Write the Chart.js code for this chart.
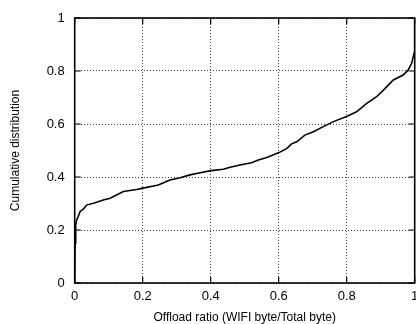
<!DOCTYPE html>
<html>
<head>
<meta charset="utf-8">
<script src="https://cdn.jsdelivr.net/npm/chart.js@4/dist/chart.umd.min.js"></script>
<style>
html,body{margin:0;padding:0;background:#fff;}
canvas{display:block;}
</style>
</head>
<body>
<canvas id="c" width="416" height="324"></canvas>
<script>
// Offload ratio (x) and cumulative distribution (y)
const offloadRatio = [0, 0.001, 0.003, 0.006, 0.01, 0.016, 0.026, 0.035, 0.06, 0.084, 0.104, 0.143, 0.182, 0.197, 0.246, 0.28, 0.31, 0.339, 0.369, 0.401, 0.437, 0.457, 0.486, 0.52, 0.54, 0.565, 0.601, 0.624, 0.638, 0.653, 0.677, 0.702, 0.731, 0.761, 0.803, 0.829, 0.859, 0.888, 0.908, 0.937, 0.966, 0.981, 0.991, 0.998, 1.0, 1.0];
const cumulative = [0, 0.15, 0.22, 0.238, 0.25, 0.27, 0.28, 0.294, 0.303, 0.313, 0.32, 0.345, 0.353, 0.357, 0.37, 0.389, 0.397, 0.408, 0.416, 0.424, 0.429, 0.437, 0.445, 0.454, 0.464, 0.474, 0.492, 0.508, 0.525, 0.533, 0.558, 0.571, 0.59, 0.609, 0.63, 0.646, 0.678, 0.703, 0.728, 0.766, 0.785, 0.804, 0.829, 0.867, 0.905, 1.0];
const xTickValues = [0, 0.2, 0.4, 0.6, 0.8, 1];
const yTickValues = [0, 0.2, 0.4, 0.6, 0.8, 1];
const xTitle = 'Offload ratio (WIFI byte/Total byte)';
const yTitle = 'Cumulative distribution';

const points = offloadRatio.map((x, i) => ({x: x, y: cumulative[i]}));

const frame = {
  id: 'frame',
  afterDatasetsDraw(chart) {
    const ctx = chart.ctx, a = chart.chartArea;
    const sx = chart.scales.x, sy = chart.scales.y;
    ctx.save();
    ctx.strokeStyle = '#000';
    ctx.lineWidth = 1.2;
    ctx.beginPath();
    xTickValues.forEach(v => {
      const p = sx.getPixelForValue(v);
      ctx.moveTo(p, a.bottom); ctx.lineTo(p, a.bottom - 6);
      ctx.moveTo(p, a.top); ctx.lineTo(p, a.top + 6);
    });
    yTickValues.forEach(v => {
      const p = sy.getPixelForValue(v);
      ctx.moveTo(a.left, p); ctx.lineTo(a.left + 6, p);
      ctx.moveTo(a.right, p); ctx.lineTo(a.right - 6, p);
    });
    ctx.stroke();
    ctx.lineWidth = 1.6;
    ctx.strokeRect(a.left, a.top, a.right - a.left, a.bottom - a.top);
    ctx.restore();
  }
};

const font = 'Liberation Sans, Arial, Helvetica, sans-serif';

new Chart(document.getElementById('c'), {
  type: 'scatter',
  data: {
    datasets: [{
      data: points,
      showLine: true,
      borderColor: '#000',
      borderWidth: 1.6,
      pointRadius: 0,
      tension: 0,
      fill: false
    }]
  },
  options: {
    responsive: false,
    animation: false,
    devicePixelRatio: 1,
    layout: {padding: {top: 18, right: 1.3, left: 0, bottom: 0}},
    plugins: {legend: {display: false}, tooltip: {enabled: false}},
    scales: {
      x: {
        type: 'linear', min: 0, max: 1,
        afterBuildTicks(s) { s.ticks = xTickValues.map(v => ({value: v})); },
        afterFit(s) { s.height = 41; s.paddingLeft = 0; s.paddingRight = 0; },
        ticks: {
          color: '#000', padding: 6, maxRotation: 0, autoSkip: false,
          font: {family: font, size: 13},
          callback: v => String(v)
        },
        grid: {
          drawTicks: false, color: '#444', lineWidth: 1,
          borderDash: [1, 2]
        },
        border: {display: false, dash: [1, 2]},
        title: {
          display: true, text: xTitle, color: '#000',
          font: {family: font, size: 12, lineHeight: 1},
          padding: {top: 0, bottom: 0}
        }
      },
      y: {
        type: 'linear', min: 0, max: 1,
        afterBuildTicks(s) { s.ticks = yTickValues.map(v => ({value: v})); },
        afterFit(s) { s.width = 74.7; s.paddingTop = 0; s.paddingBottom = 0; },
        ticks: {
          color: '#000', padding: 10, autoSkip: false,
          font: {family: font, size: 13},
          callback: v => String(v)
        },
        grid: {
          drawTicks: false, color: '#444', lineWidth: 1
        },
        border: {display: false, dash: [1, 2]},
        title: {
          display: true, text: yTitle, color: '#000',
          font: {family: font, size: 12, lineHeight: 1},
          padding: {top: 10, bottom: 0}
        }
      }
    }
  },
  plugins: [frame]
});
</script>
</body>
</html>
